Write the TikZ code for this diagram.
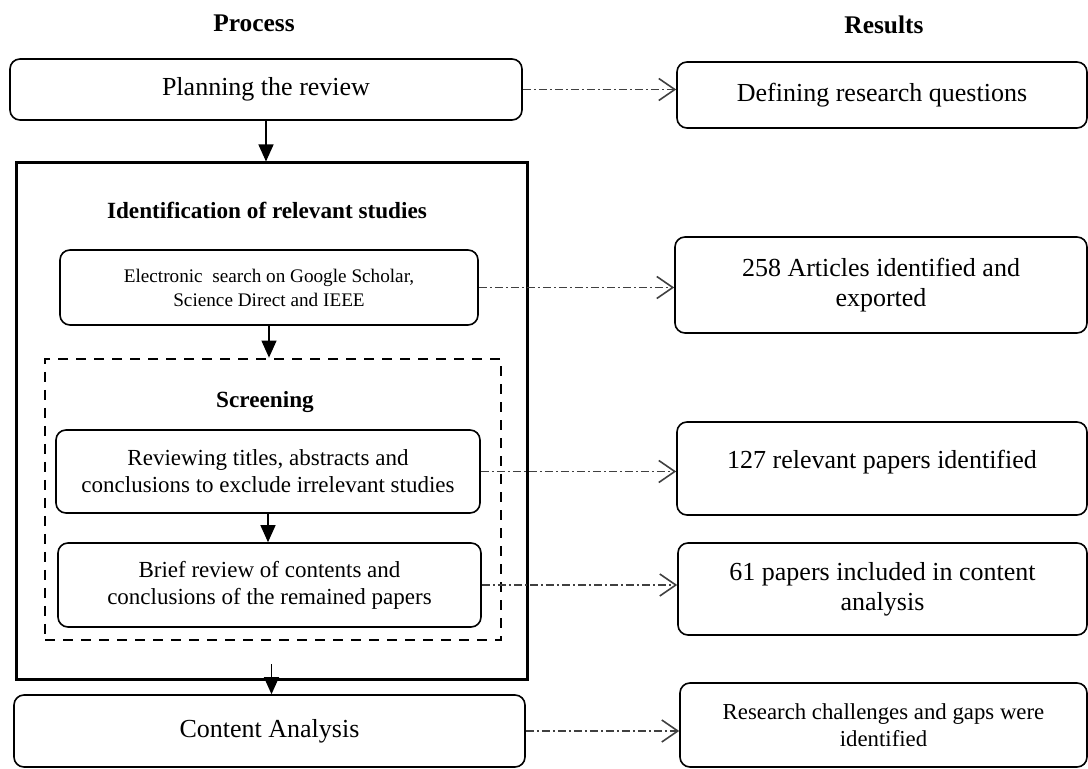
\documentclass[tikz,border=0pt]{standalone}
\usepackage{fontspec}
\setmainfont{Liberation Serif}
\usepackage{tikz}
\usetikzlibrary{arrows.meta}
\usetikzlibrary{positioning}
\tikzset{
    stage/.style={
      rectangle,
      rounded corners=5pt,
      draw=black,
      line width=0.8pt,
      align=center,
      text=black,
      font=\fontsize{13}{15}\selectfont,
      inner sep=2pt
    },
    heading/.style={
      font=\bfseries\fontsize{12.7}{15}\selectfont
    },
    subheading/.style={
      font=\bfseries\fontsize{11.6}{14}\selectfont
    },
    flow/.style={
      -{Triangle[length=8.5pt,width=7.5pt]},
      line width=0.6pt
    },
    yields/.style={
      -{Straight Barb[length=8pt,width=11pt]},
      color=MyLink,
      line width=0.8pt,
      dash pattern=on 4pt off 1.5pt on 1pt off 1.5pt
    },
}
\definecolor{MyLink}{rgb}{0.25,0.25,0.25}

\begin{document}
\begin{tikzpicture}[x=0.5pt,y=-0.5pt]
    \useasboundingbox (0,0) rectangle (1088,769);

    % column headings
    \draw (254,23) node[heading] (HProc) {Process};
    \draw (884,25) node[heading] (HRes) {Results};

    % process column
    \draw (266,89.5) node[stage,minimum width=256pt,minimum height=30.5pt] (Plan) {Planning the review};
    \draw (271.5,421.5) node[rectangle,draw=black,line width=1.5pt,minimum width=255.5pt,minimum height=258.5pt] (Ident) {};
    \draw (267,210) node[subheading] (IdentT) {Identification of relevant studies};
    \draw (269,287.5) node[stage,minimum width=209pt,minimum height=37.5pt,font=\fontsize{9.6}{12}\selectfont] (Elec) {Electronic\ \ search on Google Scholar,\\Science Direct and IEEE};
    \draw (273,499.5) node[rectangle,draw=black,line width=1.4pt,dash pattern=on 5pt off 4pt,minimum width=228pt,minimum height=140.5pt] (Screen) {};
    \draw (265,402) node[subheading] (ScreenT) {Screening};
    \draw (268,471.5) node[stage,minimum width=212pt,minimum height=41.5pt,font=\fontsize{11.5}{13.5}\selectfont] (Review) {Reviewing titles, abstracts and\\conclusions to exclude irrelevant studies};
    \draw (269.5,585) node[stage,minimum width=211.5pt,minimum height=42pt,font=\fontsize{11.5}{13.5}\selectfont] (Brief) {Brief review of contents and\\conclusions of the remained papers};
    \draw (269.5,731) node[stage,minimum width=255.5pt,minimum height=36pt] (Content) {Content Analysis};
    \coordinate (IdentOut) at ([yshift=8.5pt]Ident.south);

    % results column
    \draw (882,95) node[stage,minimum width=205pt,minimum height=33pt] (Define) {Defining research questions};
    \draw (881,285) node[stage,minimum width=206pt,minimum height=48pt] (Found) {258 Articles identified and\\exported};
    \draw (882,468.5) node[stage,minimum width=205pt,minimum height=46.5pt,text depth=9pt] (Relev) {127 relevant papers identified};
    \draw (882.5,589) node[stage,minimum width=204.5pt,minimum height=46pt] (Incl) {61 papers included in content\\analysis};
    \draw (883.5,725) node[stage,minimum width=203.5pt,minimum height=42pt,font=\fontsize{11.4}{13.5}\selectfont] (Gaps) {Research challenges and gaps were\\identified};

    % process flow
    \draw[flow] (Plan.south) -- (Plan.south |- Ident.north);
    \draw[flow] (Elec.south) -- (Elec.south |- Screen.north);
    \draw[flow] (Review.south) -- (Review.south |- Brief.north);
    \draw[flow] (IdentOut) -- (IdentOut |- Content.north);

    % process to results
    \draw[yields] (Plan.east) -- (Define.west |- Plan.east);
    \draw[yields] (Elec.east) -- (Found.west |- Elec.east);
    \draw[yields] (Review.east) -- (Relev.west |- Review.east);
    \draw[yields] (Brief.east) -- (Incl.west |- Brief.east);
    \draw[yields] (Content.east) -- (Gaps.west |- Content.east);
\end{tikzpicture}
\end{document}
